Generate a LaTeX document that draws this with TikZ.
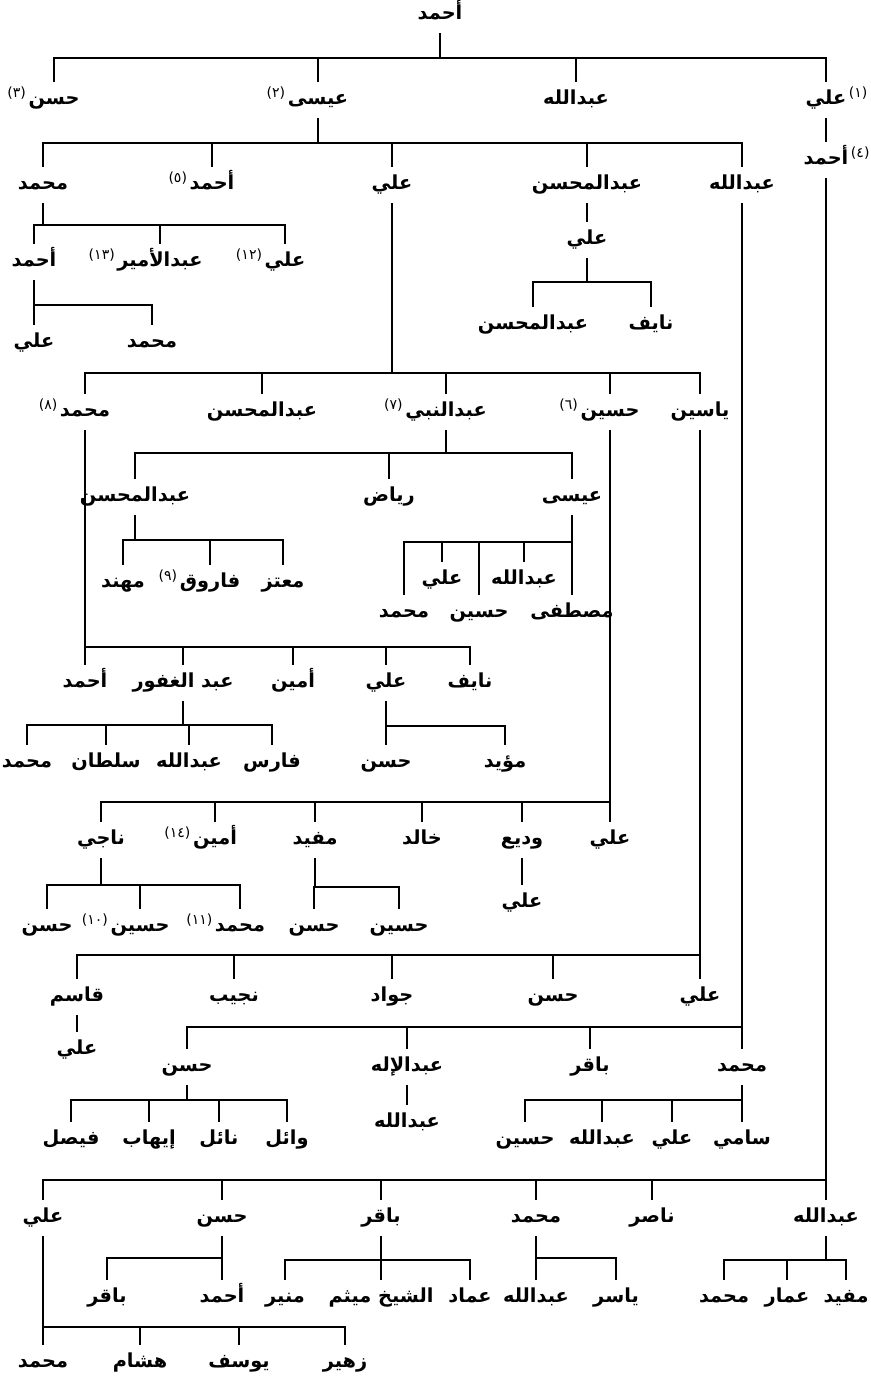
\documentclass[tikz,border=0pt]{standalone}
\usepackage{fontspec}
\newfontfamily\arabicfont[Script=Arabic]{DejaVu Sans}
\TeXXeTstate=1

\tikzset{
  nm/.style={font=\arabicfont\bfseries\fontsize{11}{13}\selectfont,
    inner xsep=1pt, inner ysep=5pt, text height=8pt, text depth=3pt,
    execute at begin node=\beginR, execute at end node=\endR},
  fnt/.style={font=\arabicfont\fontsize{8}{9}\selectfont, inner sep=0pt},
  fnl/.style={label={[fnt, yshift=4pt, xshift=0.5pt]left:{#1}}},
  fnr/.style={label={[fnt, yshift=4pt, xshift=-0.5pt]right:{#1}}},
}
% parent #1, bar at height #2 running from #3 to #4, children #5
\newcommand\kids[5]{%
  \draw (#1.south) -- (#1 |- 0,#2);
  \draw (#3 |- 0,#2) -- (#4 |- 0,#2);
  \foreach \k in {#5} \draw (\k.north) -- (\k |- 0,#2);
}

\begin{document}
\begin{tikzpicture}[x=0.02cm, y=-0.02cm, line width=1pt, line cap=rect]
        \useasboundingbox (0,0) rectangle (870,1383);
        % ==== ROOT AND HIS SONS ====
        \node[nm] (ahmad) at (440,15) {أحمد};
        \node[nm, fnl={(٣)}] (hasan3) at (54,100) {حسن};
        \node[nm, fnl={(٢)}] (isa2) at (318,100) {عيسى};
        \node[nm] (abdallah1) at (576,100) {عبدالله};
        \node[nm, fnr={(١)}] (ali1) at (826,100) {علي};
        \node[nm, fnr={(٤)}] (ahmad4) at (826,160) {أحمد};
        \kids{ahmad}{58}{hasan3}{ali1}{hasan3,isa2,abdallah1,ali1}
        \draw (ali1.south) -- (ahmad4.north);

        % ==== SONS OF ISA ====
        \node[nm] (muh2) at (43,185) {محمد};
        \node[nm, fnl={(٥)}] (ahmad5) at (212,185) {أحمد};
        \node[nm] (ali2) at (392,185) {علي};
        \node[nm] (mohsin2) at (587,185) {عبدالمحسن};
        \node[nm] (abdallah2) at (742,185) {عبدالله};
        \kids{isa2}{143}{muh2}{abdallah2}{muh2,ahmad5,ali2,mohsin2,abdallah2}

        \node[nm] (ahmad3) at (34,262) {أحمد};
        \node[nm, fnl={(١٣)}] (amir13) at (160,262) {عبدالأمير};
        \node[nm, fnl={(١٢)}] (ali12) at (285,262) {علي};
        \kids{muh2}{225}{ahmad3}{ali12}{ahmad3,amir13,ali12}
        \node[nm] (ali3) at (34,343) {علي};
        \node[nm] (muh3) at (152,343) {محمد};
        \kids{ahmad3}{305}{ali3}{muh3}{ali3,muh3}

        \node[nm] (ali4) at (587,240) {علي};
        \draw (mohsin2.south) -- (ali4.north);
        \node[nm] (mohsin4) at (533,325) {عبدالمحسن};
        \node[nm] (nayef4) at (651,325) {نايف};
        \kids{ali4}{282}{mohsin4}{nayef4}{mohsin4,nayef4}

        % ==== SONS OF ALI ====
        \node[nm, fnl={(٨)}] (muh8) at (85,412) {محمد};
        \node[nm] (mohsin5) at (262,412) {عبدالمحسن};
        \node[nm, fnl={(٧)}] (nabi7) at (446,412) {عبدالنبي};
        \node[nm, fnl={(٦)}] (husain6) at (610,412) {حسين};
        \node[nm] (yasin) at (700,412) {ياسين};
        \kids{ali2}{373}{muh8}{yasin}{muh8,mohsin5,nabi7,husain6,yasin}

        \node[nm] (mohsin7) at (135,497) {عبدالمحسن};
        \node[nm] (riyad) at (389,497) {رياض};
        \node[nm] (isa7) at (572,497) {عيسى};
        \kids{nabi7}{453}{mohsin7}{isa7}{mohsin7,riyad,isa7}
        \node[nm] (muhannad) at (123,583) {مهند};
        \node[nm, fnl={(٩)}] (faruq9) at (210,583) {فاروق};
        \node[nm] (muataz) at (283,583) {معتز};
        \kids{mohsin7}{540}{muhannad}{muataz}{muhannad,faruq9,muataz}
        \node[nm] (muh7) at (404,613) {محمد};
        \node[nm] (ali7) at (442,580) {علي};
        \node[nm] (husain7) at (479,613) {حسين};
        \node[nm] (abd7) at (524,580) {عبدالله};
        \node[nm] (mustafa) at (572,613) {مصطفى};
        \kids{isa7}{542}{muh7}{mustafa}{muh7,ali7,husain7,abd7,mustafa}

        \node[nm] (ahmad8) at (85,683) {أحمد};
        \node[nm] (ghafur) at (183,683) {عبد الغفور};
        \node[nm] (amin8) at (293,683) {أمين};
        \node[nm] (ali8) at (386,683) {علي};
        \node[nm] (nayef8) at (470,683) {نايف};
        \kids{muh8}{647}{ahmad8}{nayef8}{ahmad8,ghafur,amin8,ali8,nayef8}
        \node[nm] (muhg) at (27,763) {محمد};
        \node[nm] (sultan) at (106,763) {سلطان};
        \node[nm] (abdg) at (189,763) {عبدالله};
        \node[nm] (faris) at (272,763) {فارس};
        \kids{ghafur}{725}{muhg}{faris}{muhg,sultan,abdg,faris}
        \node[nm] (hasan8) at (386,763) {حسن};
        \node[nm] (muayyad) at (505,763) {مؤيد};
        \kids{ali8}{726}{hasan8}{muayyad}{hasan8,muayyad}

        % ==== SONS OF HUSAIN ====
        \node[nm] (naji) at (101,840) {ناجي};
        \node[nm, fnl={(١٤)}] (amin14) at (215,840) {أمين};
        \node[nm] (mufid6) at (315,840) {مفيد};
        \node[nm] (khalid) at (422,840) {خالد};
        \node[nm] (wadi) at (522,840) {وديع};
        \node[nm] (ali6) at (610,840) {علي};
        \kids{husain6}{802}{naji}{ali6}{naji,amin14,mufid6,khalid,wadi,ali6}
        \node[nm] (hasann) at (47,927) {حسن};
        \node[nm, fnl={(١٠)}] (husain10) at (140,927) {حسين};
        \node[nm, fnl={(١١)}] (muh11) at (240,927) {محمد};
        \kids{naji}{885}{hasann}{muh11}{hasann,husain10,muh11}
        \node[nm] (hasanm) at (314,927) {حسن};
        \node[nm] (husainm) at (399,927) {حسين};
        \kids{mufid6}{887}{hasanm}{husainm}{hasanm,husainm}
        \node[nm] (aliw) at (522,903) {علي};
        \draw (wadi.south) -- (aliw.north);

        % ==== SONS OF YASIN ====
        \node[nm] (qasim) at (77,997) {قاسم};
        \node[nm] (najib) at (234,997) {نجيب};
        \node[nm] (jawad) at (392,997) {جواد};
        \node[nm] (hasany) at (553,997) {حسن};
        \node[nm] (aliy) at (700,997) {علي};
        \kids{yasin}{955}{qasim}{aliy}{qasim,najib,jawad,hasany,aliy}
        \node[nm] (aliq) at (77,1050) {علي};
        \draw (qasim.south) -- (aliq.north);

        % ==== SONS OF ABDALLAH ====
        \node[nm] (hasanb) at (187,1067) {حسن};
        \node[nm] (ilah) at (407,1067) {عبدالإله};
        \node[nm] (baqir2) at (590,1067) {باقر};
        \node[nm] (muhb) at (742,1067) {محمد};
        \kids{abdallah2}{1027}{hasanb}{muhb}{hasanb,ilah,baqir2,muhb}
        \node[nm] (faisal) at (71,1140) {فيصل};
        \node[nm] (ihab) at (149,1140) {إيهاب};
        \node[nm] (nail) at (219,1140) {نائل};
        \node[nm] (wail) at (287,1140) {وائل};
        \kids{hasanb}{1100}{faisal}{wail}{faisal,ihab,nail,wail}
        \node[nm] (abdi) at (407,1123) {عبدالله};
        \draw (ilah.south) -- (abdi.north);
        \node[nm] (husainb) at (525,1140) {حسين};
        \node[nm] (abdb) at (602,1140) {عبدالله};
        \node[nm] (alib) at (672,1140) {علي};
        \node[nm] (sami) at (742,1140) {سامي};
        \kids{muhb}{1100}{husainb}{sami}{husainb,abdb,alib,sami}

        % ==== SONS OF AHMAD (4) ====
        \node[nm] (ali9) at (43,1218) {علي};
        \node[nm] (hasan9) at (222,1218) {حسن};
        \node[nm] (baqir9) at (381,1218) {باقر};
        \node[nm] (muh9) at (536,1218) {محمد};
        \node[nm] (nasir) at (652,1218) {ناصر};
        \node[nm] (abd9) at (826,1218) {عبدالله};
        \kids{ahmad4}{1180}{ali9}{abd9}{ali9,hasan9,baqir9,muh9,nasir,abd9}
        \node[nm] (muhz) at (43,1363) {محمد};
        \node[nm] (hisham) at (140,1363) {هشام};
        \node[nm] (yusuf) at (239,1363) {يوسف};
        \node[nm] (zuhair) at (345,1363) {زهير};
        \kids{ali9}{1327}{muhz}{zuhair}{muhz,hisham,yusuf,zuhair}
        \node[nm] (baqirh) at (107,1298) {باقر};
        \node[nm] (ahmadh) at (222,1298) {أحمد};
        \kids{hasan9}{1258}{baqirh}{ahmadh}{baqirh,ahmadh}
        \node[nm] (munir) at (285,1298) {منير};
        \node[nm] (maytham) at (381,1298) {الشيخ ميثم};
        \node[nm] (imad) at (470,1298) {عماد};
        \kids{baqir9}{1260}{munir}{imad}{munir,maytham,imad}
        \node[nm] (abdy) at (536,1298) {عبدالله};
        \node[nm] (yasir) at (616,1298) {ياسر};
        \kids{muh9}{1258}{abdy}{yasir}{abdy,yasir}
        \node[nm] (muhf) at (724,1298) {محمد};
        \node[nm] (ammar) at (787,1298) {عمار};
        \node[nm] (mufidf) at (846,1298) {مفيد};
        \kids{abd9}{1260}{muhf}{mufidf}{muhf,ammar,mufidf}
\end{tikzpicture}
\end{document}
